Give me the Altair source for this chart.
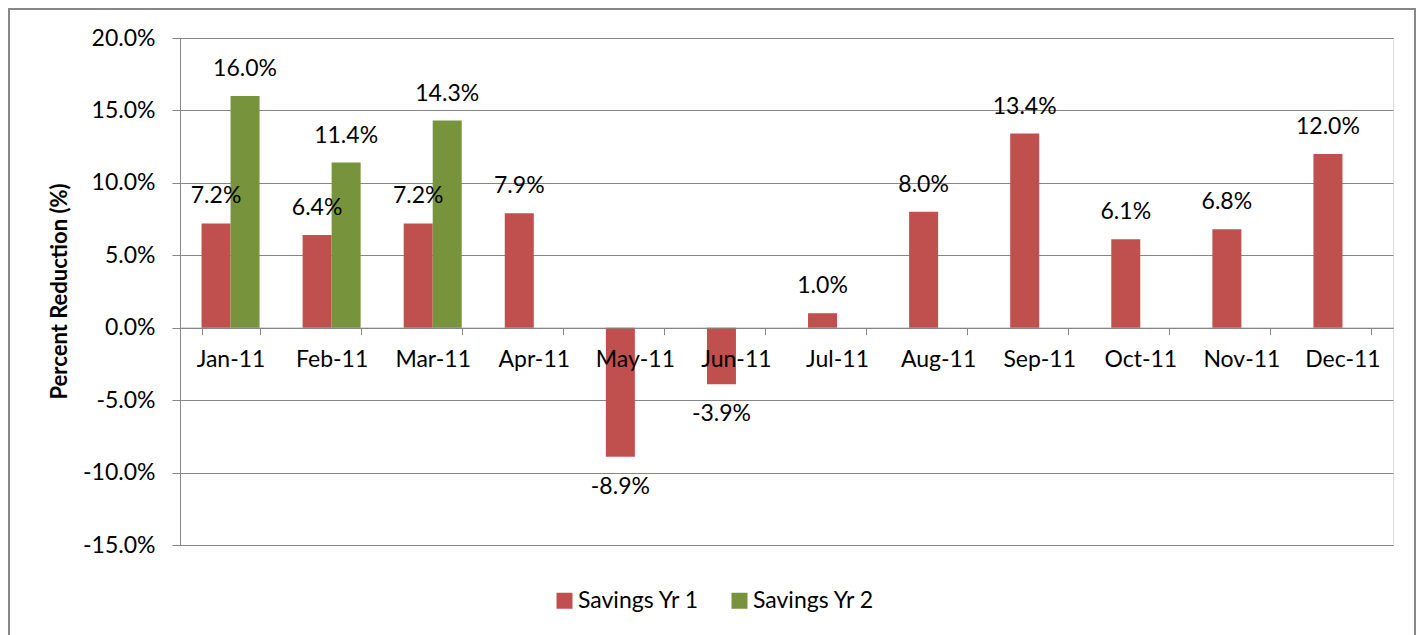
import altair as alt
import pandas as pd

months = ["Jan-11", "Feb-11", "Mar-11", "Apr-11", "May-11", "Jun-11",
          "Jul-11", "Aug-11", "Sep-11", "Oct-11", "Nov-11", "Dec-11"]
yr1 = [0.072, 0.064, 0.072, 0.079, -0.089, -0.039, 0.010, 0.080, 0.134, 0.061, 0.068, 0.120]
yr2 = [0.160, 0.114, 0.143]
series = ["Savings Yr 1", "Savings Yr 2"]
colors = ["#C0504D", "#77933C"]
y_ticks = [-0.15, -0.10, -0.05, 0.0, 0.05, 0.10, 0.15, 0.20]

rows = []
for m, v in zip(months, yr1):
    rows.append({"month": m, "series": series[0], "value": v})
for m, v in zip(months, yr2):
    rows.append({"month": m, "series": series[1], "value": v})
df = pd.DataFrame(rows)

FONT = "Lato"
FS = 23
W, H = 1213, 507

x_enc = alt.X("month:N", sort=months,
              scale=alt.Scale(paddingInner=0.426, paddingOuter=0.213),
              axis=alt.Axis(title=None, labelAngle=0, orient="bottom", offset=-217.3,
                            tickBand="extent", tickSize=7, tickColor="#868686",
                            domainColor="#868686", labelFont=FONT, labelFontSize=FS,
                            labelColor="#000000", labelPadding=14, zindex=1, grid=False))
xo_enc = alt.XOffset("series:N", scale=alt.Scale(domain=series, paddingInner=0, paddingOuter=0))
y_scale = alt.Scale(domain=[-0.15, 0.20], nice=False, zero=False)

bars = alt.Chart(df).mark_bar().encode(
    x=x_enc,
    xOffset=xo_enc,
    y=alt.Y("value:Q", scale=y_scale,
            axis=alt.Axis(values=y_ticks, format=".1%",
                          labelExpr="replace(datum.label, '\u2212', '-')",
                          title="Percent Reduction (%)",
                          titleFont=FONT, titleFontSize=22, titleFontWeight="bold",
                          titleColor="#000000", titleAngle=-90, titleX=-121, titleY=253,
                          titleAlign="center", titleBaseline="middle",
                          labelFont=FONT, labelFontSize=FS, labelColor="#000000",
                          labelPadding=17, tickSize=8, tickColor="#868686",
                          domainColor="#868686", gridColor="#868686", grid=True)),
    y2=alt.datum(0),
    color=alt.Color("series:N", scale=alt.Scale(domain=series, range=colors),
                    legend=alt.Legend(title=None, orient="none", direction="horizontal",
                                      legendX=373, legendY=551, symbolType="square",
                                      symbolSize=256, symbolStrokeWidth=0,
                                      labelFont=FONT, labelFontSize=FS,
                                      labelColor="#000000", columnPadding=28,
                                      labelOffset=2)),
)

label_base = alt.Chart(df).transform_calculate(
    lbl="replace(format(datum.value, '.1%'), '\u2212', '-')"
)
pos_labels = label_base.transform_filter("datum.value >= 0").mark_text(
    font=FONT, fontSize=FS, color="#000000", baseline="middle", dy=-27
).encode(
    x=alt.X("month:N", sort=months), xOffset=xo_enc,
    y=alt.Y("value:Q", scale=y_scale),
    text="lbl:N",
)
neg_labels = label_base.transform_filter("datum.value < 0").mark_text(
    font=FONT, fontSize=FS, color="#000000", baseline="middle", dy=30
).encode(
    x=alt.X("month:N", sort=months), xOffset=xo_enc,
    y=alt.Y("value:Q", scale=y_scale),
    text="lbl:N",
)

border = alt.Chart(alt.Data(values=[{}])).mark_rect(
    fillOpacity=0, stroke="#888888", strokeWidth=2
).encode(
    x=alt.value(-171), x2=alt.value(1235), y=alt.value(-29), y2=alt.value(620)
)

chart = alt.layer(bars, pos_labels, neg_labels, border).properties(
    width=W, height=H,
    autosize=alt.AutoSizeParams(type="none"),
    padding={"left": 172, "top": 30, "right": 23, "bottom": 90},
).configure_view(stroke=None).configure(background="#ffffff")

chart.save("out.html", embed_options={"renderer": "svg", "actions": False})
